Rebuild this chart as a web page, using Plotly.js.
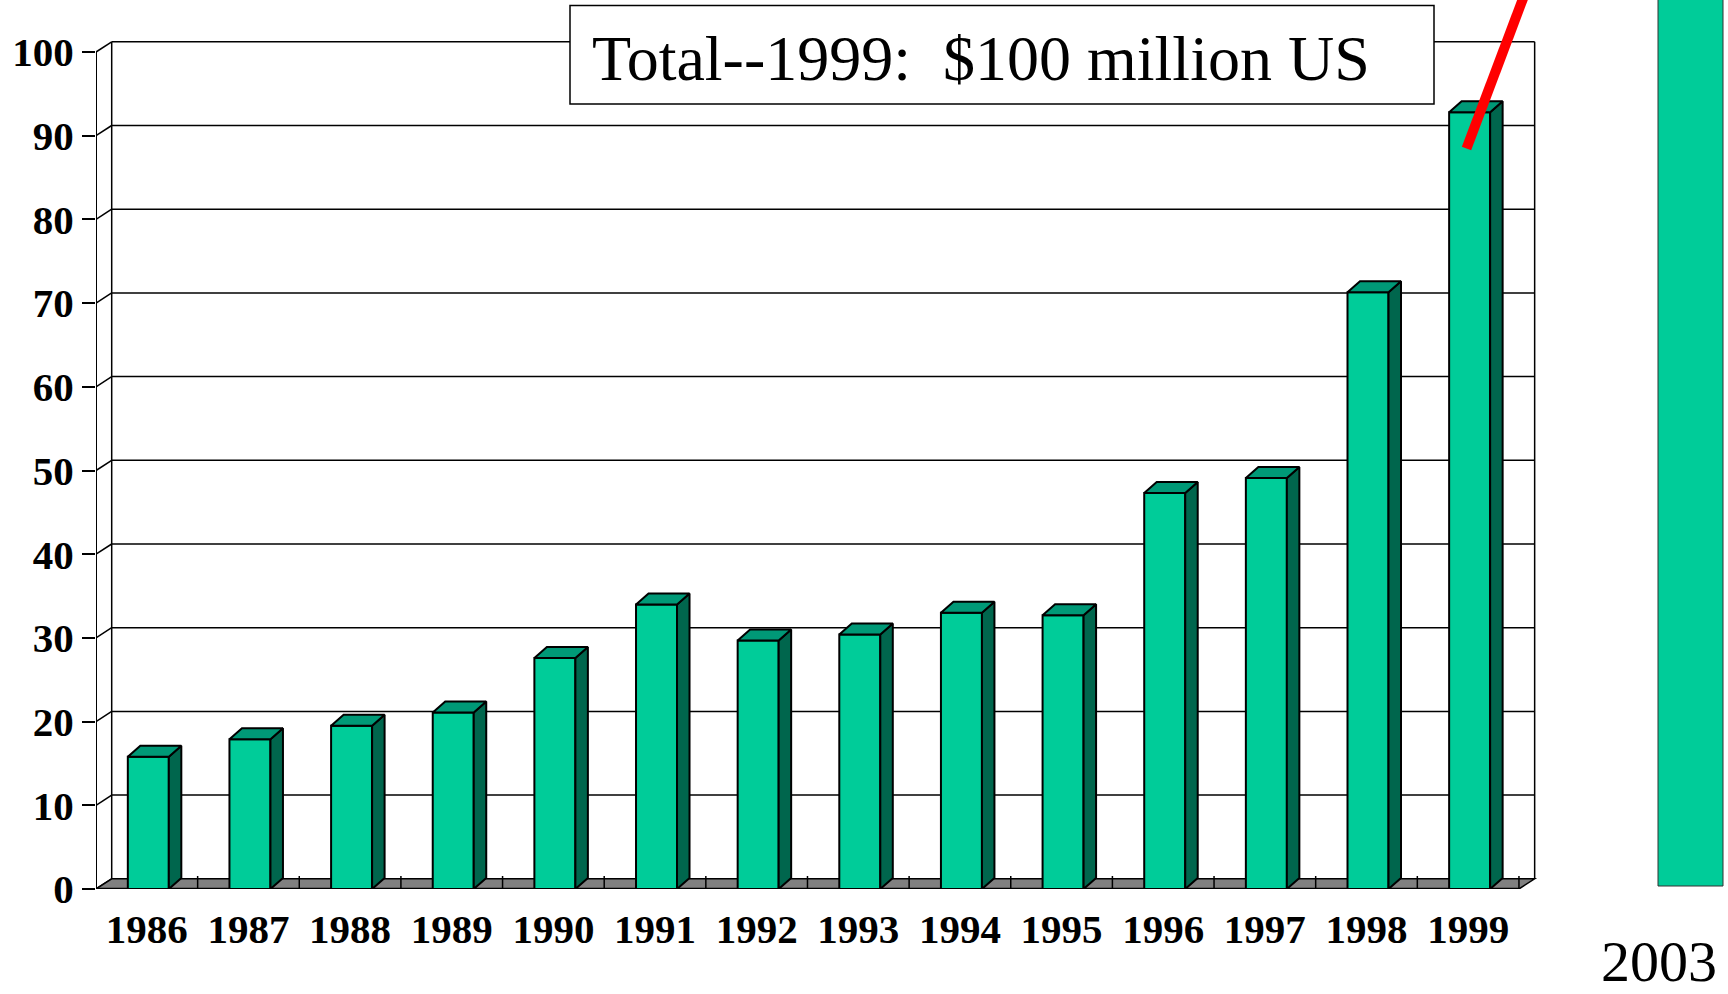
<!DOCTYPE html>
<html>
<head>
<meta charset="utf-8">
<script src="https://cdn.plot.ly/plotly-3.0.1.min.js"></script>
<style>
  html, body { margin: 0; padding: 0; background: #ffffff; }
  #chart { width: 1728px; height: 994px; }
</style>
</head>
<body>
<div id="chart"></div>
<script>
// Annual funding, million US$
const years = ['1986', '1987', '1988', '1989', '1990', '1991', '1992',
               '1993', '1994', '1995', '1996', '1997', '1998', '1999'];
const funding = [15.8, 17.9, 19.5, 21.1, 27.6, 34.0, 29.7,
                 30.4, 33.0, 32.7, 47.3, 49.1, 71.3, 92.8];
const yTicks = [0, 10, 20, 30, 40, 50, 60, 70, 80, 90, 100];
const projectionYear = ['2003'];
const projectionValue = [130];
const titleText = 'Total--1999:\u00A0 $100 million US';

// ---- geometry (pixels) ----
const W = 1728, H = 994;
const ML = 96, MB = 105;
const plotW = W - ML, plotH = H - MB;
const PXX = 101.64;           // pixels per category slot
const PXY = 8.37;             // pixels per million
const px2x = p => (p - ML) / PXX - 0.5;   // page x -> axis units
const px2y = p => (plotH - p) / PXY;      // page y -> axis units
const ddx = p => p / PXX;
const ddy = p => p / PXY;

const wallDX = ddx(15.7), wallDY = ddy(10.2);   // depth of walls
const barDX = ddx(12.5), barDY = ddy(11);       // depth of columns
const barW = ddx(41), barShift = ddx(1.5);
const nCat = years.length;
const xLeft = -0.5, xRight = nCat - 0.5;

const FRONT = '#00CC99', SIDE = '#00664D', TOP = '#009977';

const idx = years.map((_, i) => i);
const barX = idx.map(i => i + barShift);

// side and top faces of the columns
const sideX = [], sideY = [], topX = [], topY = [];
funding.forEach((v, i) => {
  const xl = barX[i] - barW / 2, xr = barX[i] + barW / 2;
  sideX.push(xr, xr + barDX, xr + barDX, xr, xr, null);
  sideY.push(0, barDY, v + barDY, v, 0, null);
  topX.push(xl, xr, xr + barDX, xl + barDX, xl, null);
  topY.push(v, v, v + barDY, v + barDY, v, null);
});

// shapes: back wall, gridlines, floor, category ticks, title box
const shapes = [];
const line = (x0, y0, x1, y1, w, c) => ({
  type: 'line', xref: 'x', yref: 'y', x0, y0, x1, y1,
  line: { color: c || '#000000', width: w || 1.5 }, layer: 'below'
});
yTicks.forEach(t => {
  if (t > 0) shapes.push(line(xLeft + wallDX, t + wallDY, xRight + wallDX, t + wallDY));
  shapes.push(line(xLeft, t, xLeft + wallDX, t + wallDY));
});
const yMax = yTicks[yTicks.length - 1];
shapes.push(line(xLeft + wallDX, wallDY, xLeft + wallDX, yMax + wallDY));
shapes.push(line(xRight + wallDX, wallDY, xRight + wallDX, yMax + wallDY));
shapes.push(line(xLeft, 0, xLeft, yMax, 2));
shapes.push({
  type: 'path', xref: 'x', yref: 'y', layer: 'below',
  path: `M${xLeft},0 L${xRight},0 L${xRight + wallDX},${wallDY} L${xLeft + wallDX},${wallDY} Z`,
  fillcolor: '#808080', line: { color: '#000000', width: 1.5 }
});
shapes.push(line(xLeft, 0, xRight, 0, 2.5));
for (let k = 1; k <= nCat; k++) {
  shapes.push(line(xLeft + k, 0, xLeft + k, ddy(13), 1.5));
}
// title box
shapes.push({
  type: 'rect', xref: 'x', yref: 'y', layer: 'below',
  x0: px2x(570), x1: px2x(1434), y0: px2y(104), y1: px2y(5.5),
  fillcolor: '#ffffff', line: { color: '#000000', width: 1.5 }
});

const traces = [
  {
    type: 'bar', x: barX, y: funding, width: barW,
    marker: { color: FRONT, line: { color: '#000000', width: 2 } },
    hoverinfo: 'skip'
  },
  {
    type: 'bar', x: [px2x(1690.5)], y: projectionValue, base: [ddy(3)], width: ddx(65),
    marker: { color: FRONT, line: { color: '#333333', width: 1 } },
    hoverinfo: 'skip'
  },
  {
    type: 'scatter', mode: 'lines', x: sideX, y: sideY, fill: 'toself',
    fillcolor: SIDE, line: { color: '#000000', width: 2 }, hoverinfo: 'skip'
  },
  {
    type: 'scatter', mode: 'lines', x: topX, y: topY, fill: 'toself',
    fillcolor: TOP, line: { color: '#000000', width: 2 }, hoverinfo: 'skip'
  },
  {
    // growth line rising out of the 1999 column toward 2003
    type: 'scatter', mode: 'lines',
    x: [px2x(1466.5), px2x(1530)], y: [px2y(148.5), px2y(-20)],
    line: { color: '#FF0000', width: 10 }, hoverinfo: 'skip'
  }
];

const layout = {
  width: W, height: H,
  margin: { l: ML, r: 0, t: 0, b: MB, pad: 0 },
  paper_bgcolor: '#ffffff', plot_bgcolor: '#ffffff',
  showlegend: false, barmode: 'overlay',
  xaxis: {
    range: [-0.5, -0.5 + plotW / PXX],
    tickmode: 'array', tickvals: idx, ticktext: years,
    ticks: '', ticklabelstandoff: 12,
    showgrid: false, zeroline: false, showline: false,
    tickfont: { family: 'Liberation Serif', size: 41, color: '#000000', weight: 'bold' },
    fixedrange: true
  },
  yaxis: {
    range: [0, plotH / PXY],
    tickmode: 'array', tickvals: yTicks,
    ticks: 'outside', ticklen: 13, tickwidth: 2, tickcolor: '#000000',
    showgrid: false, zeroline: false, showline: false,
    tickfont: { family: 'Liberation Serif', size: 41, color: '#000000', weight: 'bold' },
    fixedrange: true
  },
  shapes: shapes,
  annotations: [
    {
      xref: 'x', yref: 'y', x: px2x(590), y: px2y(58),
      xanchor: 'left', yanchor: 'middle', showarrow: false,
      text: titleText,
      font: { family: 'Liberation Serif', size: 64, color: '#000000' }
    },
    {
      xref: 'x', yref: 'paper', x: px2x(1659), y: (plotH - 961) / plotH,
      xanchor: 'center', yanchor: 'middle', showarrow: false,
      text: projectionYear[0],
      font: { family: 'Liberation Serif', size: 58, color: '#000000' }
    }
  ]
};

Plotly.newPlot('chart', traces, layout, { staticPlot: true, displayModeBar: false });
</script>
</body>
</html>
